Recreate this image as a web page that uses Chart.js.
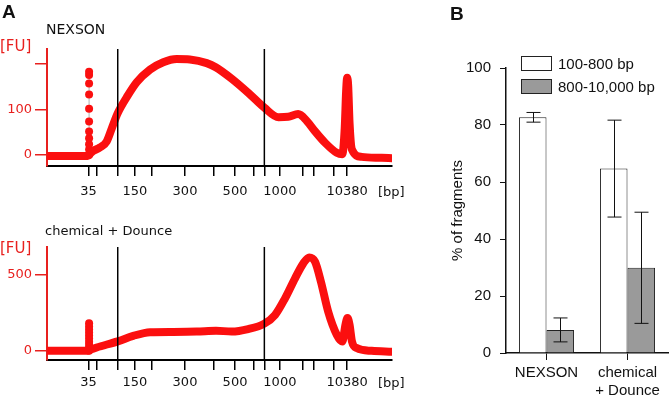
<!DOCTYPE html>
<html>
<head>
<meta charset="utf-8">
<script src="https://cdn.jsdelivr.net/npm/chart.js@4.4.1/dist/chart.umd.min.js"></script>
<style>
  body { margin: 0; background: #fff; }
  #wrap { position: relative; width: 672px; height: 410px; overflow: hidden; }
  canvas { position: absolute; }
</style>
</head>
<body>
<div id="wrap">
  <canvas id="trace-nexson" width="420" height="205" style="left:0;top:0"></canvas>
  <canvas id="trace-dounce" width="420" height="205" style="left:0;top:205px"></canvas>
  <canvas id="bars" width="232" height="410" style="left:440px;top:0"></canvas>
</div>
<script>
// ladder (bp) and where each ladder band sits on the migration axis
const ladderBp   = [35, 50, 100, 150, 200, 300, 400, 500, 600, 800, 1000, 2000, 3000, 7000, 10380];
const ladderTime = [12.0, 14.4, 20.5, 25.5, 30.3, 40.0, 48.4, 54.5, 59.8, 63.0, 67.5, 74.0, 77.4, 83.0, 87.0];
const labelledBp = [35, 150, 300, 500, 1000, 10380];
const regionBp   = [100, 800];

// NEXSON electropherogram
const nexsonTime = [0, 11.8, 12.6, 13.4, 15.4, 17.3, 18.8, 20.5, 23.1, 26.0, 29.9, 33.7, 37.6, 41.4, 46.3, 48.9, 53.5, 58.3, 63.0, 67.1, 69.9, 72.8, 75.3, 77.7, 80.6, 84.0, 85.6, 86.3, 86.7, 87.0, 87.3, 87.7, 88.4, 91.2, 97.0, 100];
const nexsonFU   = [-2, -2, 4, 9, 17, 30, 59, 92, 127, 160, 188, 204, 211, 210, 202, 193, 168, 137, 104, 83, 84, 90, 75, 52, 27, 5, 2, 60, 140, 170, 152, 70, 12, -4, -6, -7];
const nexsonMarkerFU = [0, 12, 24, 37, 52, 74, 102, 133, 157, 176, 183];

// chemical + Dounce electropherogram
const dounceTime = [0, 11.8, 12.6, 14.4, 20.5, 25.0, 29.9, 36.6, 43.4, 49.0, 53.5, 58.3, 63.0, 66.1, 69.0, 71.9, 74.3, 76.0, 77.7, 79.4, 81.5, 84.0, 85.6, 86.5, 87.1, 87.7, 88.4, 89.8, 94.1, 100];
const dounceFU   = [0, 0, 8, 22, 62, 98, 122, 124, 126, 132, 126, 142, 178, 235, 344, 475, 573, 612, 584, 453, 257, 105, 61, 170, 215, 170, 61, 18, 0, -6];
const dounceMarkerFU = [0, 20, 40, 60, 80, 100, 120, 140, 160, 180];
const markerTime = 12.2;

// panel B
const groups    = ['NEXSON', ['chemical', '+ Dounce']];
const shortMean = [82.7, 64.7];
const shortErr  = [1.7, 17.0];
const longMean  = [8.1, 29.9];
const longErr   = [4.2, 19.5];

const RED = '#e8201e';
const traceFont = { family: "'DejaVu Sans', Verdana, sans-serif", size: 13 };
const arialFont = { family: "'Liberation Sans', Arial, sans-serif", size: 15 };

const panelText = {
  id: 'panelText',
  afterDraw(chart, args, opts) {
    const ctx = chart.ctx;
    ctx.save();
    (opts.items || []).forEach(t => {
      ctx.font = t.font;
      ctx.fillStyle = t.color || '#111';
      ctx.textAlign = 'left';
      ctx.textBaseline = 'alphabetic';
      ctx.fillText(t.text, t.x, t.y);
    });
    ctx.restore();
  }
};

const regionLines = {
  id: 'regionLines',
  afterDatasetsDraw(chart) {
    const { ctx, chartArea, scales: { x } } = chart;
    ctx.save();
    ctx.strokeStyle = '#000';
    ctx.lineWidth = 1.5;
    regionBp.forEach(bp => {
      const px = x.getPixelForValue(ladderTime[ladderBp.indexOf(bp)]);
      ctx.beginPath();
      ctx.moveTo(px, chartArea.top);
      ctx.lineTo(px, chartArea.bottom);
      ctx.stroke();
    });
    ctx.restore();
  }
};

function traceChart(id, time, fu, markerFU, yMin, yMax, yTicks, yShown, padTop, xHeight, labelPad, texts) {
  return new Chart(document.getElementById(id), {
    type: 'line',
    data: {
      datasets: [
        {
          data: time.map((t, i) => ({ x: t, y: fu[i] })),
          borderColor: '#fb0f0f',
          borderWidth: 8,
          borderCapStyle: 'round',
          borderJoinStyle: 'round',
          cubicInterpolationMode: 'monotone',
          pointRadius: 0
        },
        {
          data: markerFU.map(v => ({ x: markerTime, y: v })),
          borderColor: '#b0b0b0',
          borderWidth: 1,
          pointRadius: 4,
          pointBackgroundColor: '#fb0f0f',
          pointBorderWidth: 0
        }
      ]
    },
    options: {
      responsive: false,
      animation: false,
      layout: { padding: { top: padTop, right: 28, left: 0, bottom: 0 } },
      scales: {
        x: {
          type: 'linear', min: 0, max: 100,
          afterBuildTicks: s => { s.ticks = ladderTime.map(v => ({ value: v })); },
          afterFit: s => { s.height = xHeight; },
          ticks: {
            autoSkip: false, maxRotation: 0, padding: labelPad, color: '#111', font: traceFont,
            callback: (v, i) => labelledBp.includes(ladderBp[i]) ? String(ladderBp[i]) : ''
          },
          grid: { drawOnChartArea: false, tickLength: 10, color: '#000', lineWidth: 1.5 },
          border: { color: '#000', width: 2 }
        },
        y: {
          min: yMin, max: yMax,
          afterBuildTicks: s => { s.ticks = yTicks.map(v => ({ value: v })); },
          afterFit: s => { s.width = 47; },
          ticks: {
            padding: 3, color: RED, font: traceFont,
            callback: v => yShown.includes(v) ? String(v) : ''
          },
          grid: { drawOnChartArea: false, tickLength: 12, color: RED, lineWidth: 1.5 },
          border: { color: RED, width: 2 }
        }
      },
      plugins: {
        legend: { display: false },
        tooltip: { enabled: false },
        panelText: { items: texts }
      }
    },
    plugins: [regionLines, panelText]
  });
}

const dejavu = s => s + "px 'DejaVu Sans', Verdana, sans-serif";
const boldArial = "bold 19px 'Liberation Sans', Arial, sans-serif";

traceChart('trace-nexson', nexsonTime, nexsonFU, nexsonMarkerFU, -24, 233, [0, 100, 200], [0, 100], 49, 39, 8, [
  { text: 'A', x: 2, y: 18, font: boldArial },
  { text: 'NEXSON', x: 46, y: 34, font: dejavu(14) },
  { text: '[FU]', x: 0, y: 51, font: dejavu(15), color: RED },
  { text: '[bp]', x: 378, y: 196, font: dejavu(13) }
]);

traceChart('trace-dounce', dounceTime, dounceFU, dounceMarkerFU, -60, 680, [0, 500], [0, 500], 42, 50, 5, [
  { text: 'chemical + Dounce', x: 45, y: 30, font: dejavu(13) },
  { text: '[FU]', x: 0, y: 48, font: dejavu(15), color: RED },
  { text: '[bp]', x: 378, y: 182, font: dejavu(13) }
]);

const errorBars = {
  id: 'errorBars',
  afterDatasetsDraw(chart, args, opts) {
    const { ctx, scales: { y } } = chart;
    ctx.save();
    ctx.strokeStyle = '#111';
    ctx.lineWidth = 1;
    chart.data.datasets.forEach((ds, i) => {
      chart.getDatasetMeta(i).data.forEach((bar, j) => {
        const lo = y.getPixelForValue(ds.data[j] - opts.errors[i][j]);
        const hi = y.getPixelForValue(ds.data[j] + opts.errors[i][j]);
        const x = Math.round(bar.x) + 0.5;
        ctx.beginPath();
        ctx.moveTo(x, lo); ctx.lineTo(x, hi);
        ctx.moveTo(x - opts.cap, lo); ctx.lineTo(x + opts.cap, lo);
        ctx.moveTo(x - opts.cap, hi); ctx.lineTo(x + opts.cap, hi);
        ctx.stroke();
      });
    });
    ctx.restore();
  }
};

const boxLegend = {
  id: 'boxLegend',
  afterDraw(chart, args, opts) {
    const ctx = chart.ctx;
    ctx.save();
    chart.data.datasets.forEach((ds, i) => {
      const y = opts.top + i * opts.rowGap;
      ctx.fillStyle = ds.backgroundColor;
      ctx.fillRect(opts.left, y, opts.boxW, opts.boxH);
      ctx.strokeStyle = '#222';
      ctx.lineWidth = 1;
      ctx.strokeRect(opts.left + 0.5, y + 0.5, opts.boxW - 1, opts.boxH - 1);
      ctx.fillStyle = '#111';
      ctx.font = "15px 'Liberation Sans', Arial, sans-serif";
      ctx.textBaseline = 'middle';
      ctx.fillText(ds.label, opts.left + opts.boxW + 6, y + opts.boxH / 2 + 1);
    });
    ctx.restore();
  }
};

new Chart(document.getElementById('bars'), {
  type: 'bar',
  data: {
    labels: groups,
    datasets: [
      { label: '100-800 bp', data: shortMean, backgroundColor: '#ffffff', borderColor: '#222', borderWidth: 1 },
      { label: '800-10,000 bp', data: longMean, backgroundColor: '#9a9a9a', borderColor: '#222', borderWidth: 1 }
    ]
  },
  options: {
    responsive: false,
    animation: false,
    layout: { padding: { top: 68, right: 4, left: 0, bottom: 0 } },
    datasets: { bar: { categoryPercentage: 0.68, barPercentage: 1 } },
    scales: {
      x: {
        afterFit: s => { s.height = 57; },
        grid: { drawOnChartArea: false, offset: false, tickLength: 7, color: '#111' },
        border: { color: '#111', width: 1.5 },
        ticks: { color: '#111', font: arialFont, padding: 4, maxRotation: 0 }
      },
      y: {
        min: 0, max: 100,
        afterFit: s => { s.width = 66; },
        ticks: { stepSize: 20, color: '#111', font: arialFont, padding: 9 },
        grid: { drawOnChartArea: false, tickLength: 6, color: '#111' },
        border: { color: '#111', width: 1.5 },
        title: { display: true, text: '% of fragments', color: '#111', font: arialFont, padding: { top: 9, bottom: 0 } }
      }
    },
    plugins: {
      legend: { display: false },
      tooltip: { enabled: false },
      errorBars: { errors: [shortErr, longErr], cap: 7 },
      boxLegend: { left: 81, top: 56, boxW: 31, boxH: 15, rowGap: 23 },
      panelText: { items: [{ text: 'B', x: 10, y: 20, font: boldArial }] }
    }
  },
  plugins: [errorBars, boxLegend, panelText]
});
</script>
</body>
</html>
